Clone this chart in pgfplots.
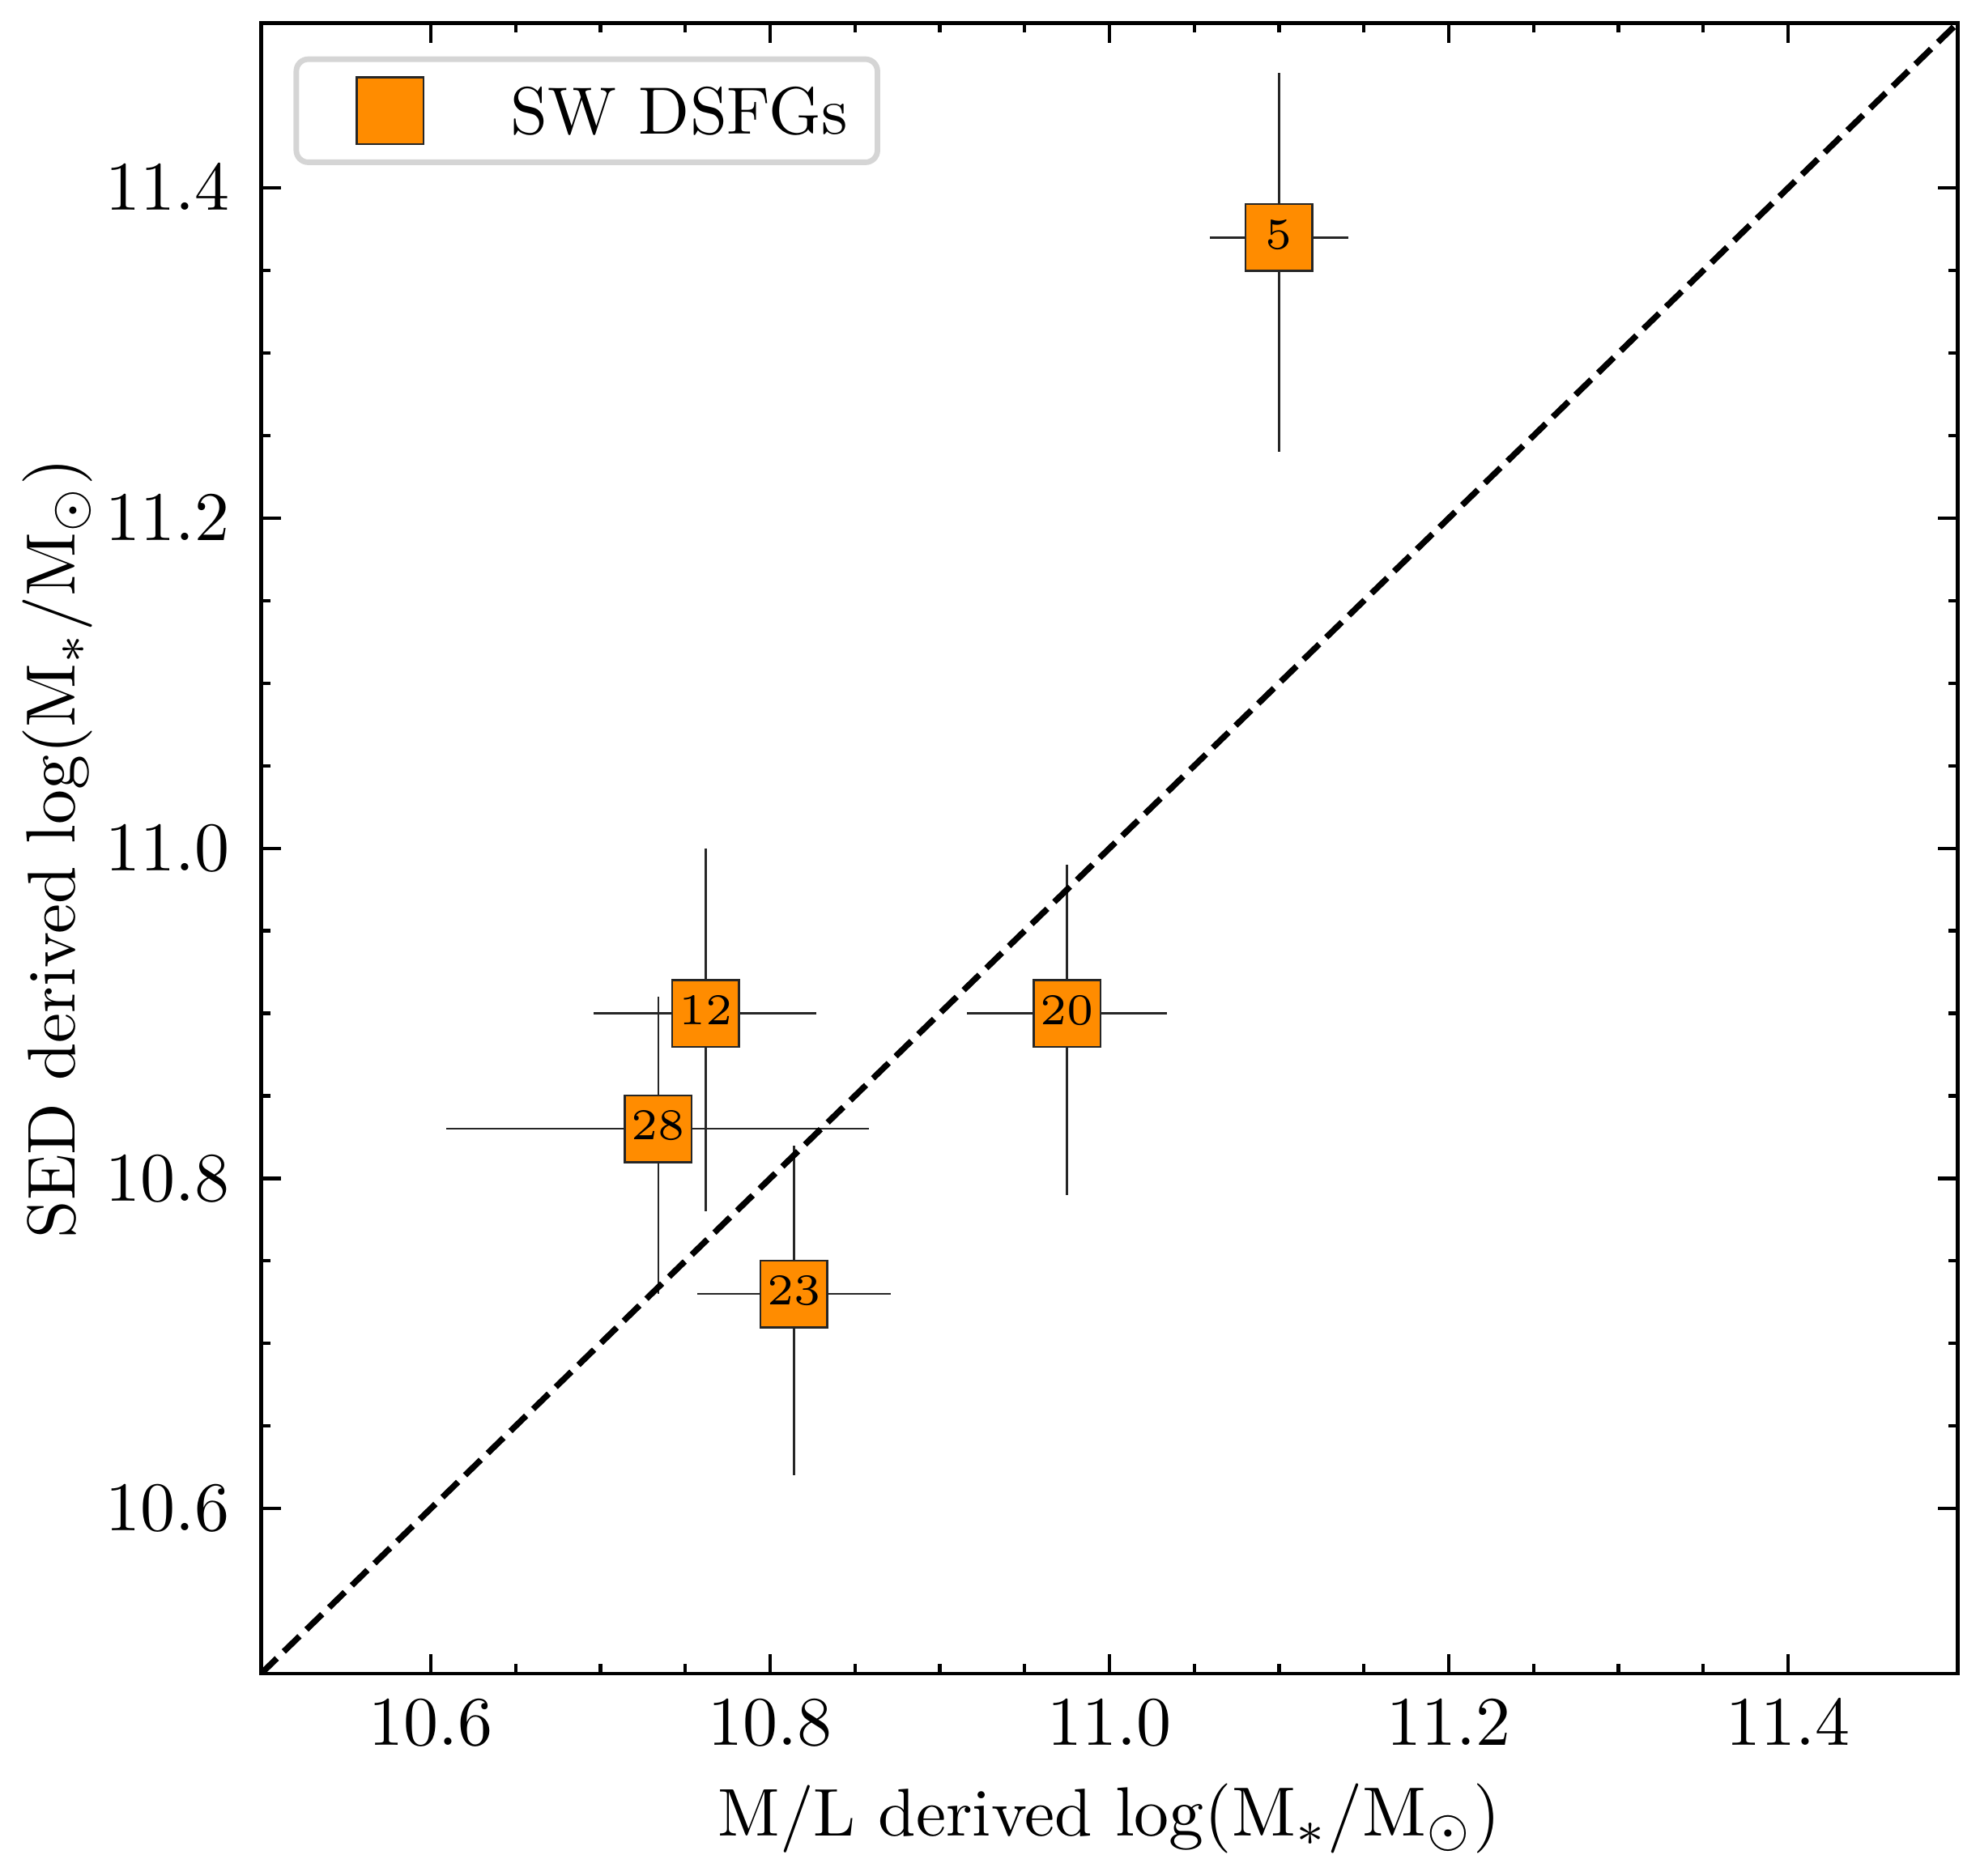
\documentclass[border=0pt]{standalone}
\usepackage{pgfplots}
\usepackage{pgfplotstable}
\pgfplotsset{compat=1.18}
\definecolor{dorange}{HTML}{FF8C00}
\definecolor{leggray}{HTML}{D5D5D5}

\pgfplotstableread{
x y exm exp eym eyp lab
11.100 11.37 0.041 0.041 0.13 0.10 5
10.762 10.90 0.066 0.065 0.12 0.10 12
10.975 10.90 0.059 0.059 0.11 0.09 20
10.814 10.73 0.057 0.057 0.11 0.09 23
10.734 10.83 0.125 0.124 0.10 0.08 28
}\seddata

\begin{document}
\begin{tikzpicture}
\begin{axis}[
  scale only axis, width=243.6pt, height=237.04pt,
  xmin=10.5, xmax=11.5, ymin=10.5, ymax=11.5,
  xtick={10.6,10.8,11.0,11.2,11.4},
  ytick={10.6,10.8,11.0,11.2,11.4},
  minor tick num=3,
  major tick length=2.8pt, minor tick length=1.35pt,
  tick align=inside,
  axis line style={line width=0.5pt},
  tick style={black, line width=0.5pt},
  tick label style={font=\fontsize{10}{12}\selectfont},
  xticklabel={\pgfmathprintnumber[fixed,fixed zerofill,precision=1]{\tick}},
  yticklabel={\pgfmathprintnumber[fixed,fixed zerofill,precision=1]{\tick}},
  yticklabel style={xshift=-1.0pt},
  xticklabel style={yshift=-0.3pt},
  xlabel={M/L derived $\log(\mathrm{M}_*/\mathrm{M}_\odot)$},
  ylabel={SED derived $\log(\mathrm{M}_*/\mathrm{M}_\odot)$},
  every axis x label/.style={at={(axis description cs:0.5,0)}, anchor=base, yshift=-23.26pt, font=\fontsize{9.7}{12}\selectfont},
  every axis y label/.style={at={(axis description cs:0,0.5)}, anchor=base, rotate=90, yshift=26.69pt, font=\fontsize{9.7}{12}\selectfont},
  legend image code/.code={\draw[#1] plot coordinates {(8.84pt,0pt)}; \path (0pt,0pt) (25.76pt,0pt);},
  legend style={at={(axis description cs:0,1)}, anchor=north west, xshift=4.65pt, yshift=-4.8pt,
    draw=leggray, line width=0.8pt, rounded corners=1.7pt, fill=white,
    inner xsep=4.24pt, inner ysep=2.6pt,
    font=\fontsize{9.6}{12}\selectfont,
    cells={anchor=west}, nodes={inner sep=0pt, text depth=0pt}},
]
\addplot[only marks, mark=square*, mark size=4.8pt,
  mark options={fill=dorange, draw=black!85, line width=0.3pt},
  error bars/.cd, x dir=both, x explicit, y dir=both, y explicit, error mark=none,
  error bar style={line width=0.28pt, black!85},
  /pgfplots/.cd,
  nodes near coords, point meta=explicit symbolic,
  every node near coord/.append style={anchor=center, font=\fontsize{6.3}{7}\selectfont, inner sep=0pt, text=black, yshift=0.45pt},
] table[x=x, y=y, x error minus=exm, x error plus=exp, y error minus=eym, y error plus=eyp, meta=lab] {\seddata};
\addlegendentry{SW DSFGs}
\addplot[black, line width=0.87pt, dash pattern=on 3.14pt off 1.4pt, forget plot] coordinates {(10.5,10.5) (11.5,11.5)};
\end{axis}
\pgfresetboundingbox
\path ([shift={(-37.5pt,-29.07pt)}]current axis.south west) rectangle ([shift={(3.2pt,3.31pt)}]current axis.north east);
\end{tikzpicture}
\end{document}
